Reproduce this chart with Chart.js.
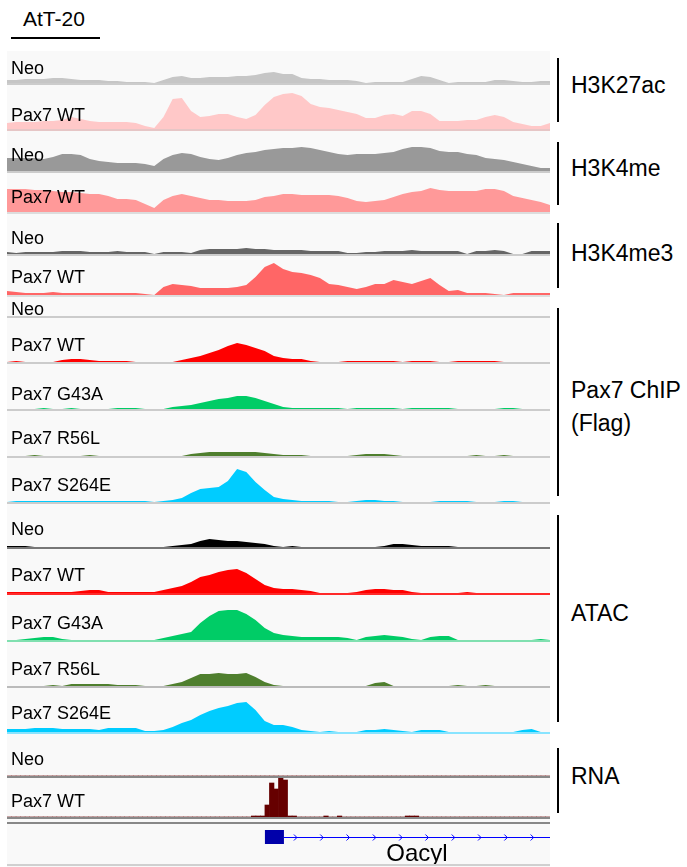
<!DOCTYPE html>
<html>
<head>
<meta charset="utf-8">
<script src="https://cdn.jsdelivr.net/npm/chart.js@4/dist/chart.umd.min.js"></script>
<style>
body { margin: 0; background: #fff; font-family: Arial, "Liberation Sans", sans-serif; }
#page { position: relative; width: 687px; height: 867px; overflow: hidden; }
.track { position: absolute; left: 7px; width: 543px; background: #f9f9f9; }
.track canvas { position: absolute; left: 0; top: 0; }
.base { position: absolute; left: 0; width: 543px; height: 2px; }
.lab { position: absolute; left: 11px; font-size: 18px; line-height: 20px; color: #000; white-space: nowrap; }
.grp { position: absolute; left: 557px; width: 2px; background: #000; }
.glab { position: absolute; left: 571px; font-size: 23px; line-height: 26px; color: #000; white-space: nowrap; }
</style>
</head>
<body>
<div id="page">
  <div style="position:absolute;left:23px;top:7px;font-size:21px;line-height:24px;">AtT-20</div>
  <div style="position:absolute;left:11px;top:37px;width:89px;height:2px;background:#000;"></div>
</div>
<script>
// signal per bin (60 bins across the locus)
const bins = Array.from({ length: 60 }, (_, i) => i)
const rnaBins = Array.from({ length: 120 }, (_, i) => i)

const h3k27acNeo = [3,3,4,4,4,5,5,4,3,3, 3,2,2,1,1,1,0,3,6,7, 5,5,6,6,6,7,7,8,10,11, 9,9,5,4,4,3,3,3,2,0, 1,1,1,1,4,7,6,3,0,1, 1,1,1,3,3,2,1,1,2,2]
const h3k27acWT = [6,7,7,7,8,8,9,12,10,8, 7,7,7,7,6,3,1,12,30,31, 18,12,13,15,15,12,10,14,24,32, 35,36,33,25,22,21,19,17,15,11, 11,14,15,13,18,18,15,8,8,8, 9,9,12,14,12,7,5,3,3,6]
const h3k4meNeo = [13,13,13,13,12,14,17,17,16,12, 10,9,8,8,8,7,5,12,16,18, 17,14,12,11,13,16,18,19,21,22, 23,23,24,23,21,19,17,16,17,17, 17,18,19,22,24,24,23,20,19,19, 17,16,13,12,11,9,7,5,3,3]
const h3k4meWT = [23,23,23,22,22,21,20,20,19,18, 18,16,13,13,12,8,4,12,16,18, 16,14,12,12,11,11,11,12,15,16, 18,18,17,17,17,17,16,14,11,10, 11,12,15,18,20,21,24,22,21,21, 21,21,23,23,21,16,14,12,10,7]
const h3k4me3Neo = [2,1,2,2,2,2,3,3,3,2, 2,2,3,2,2,2,0,2,2,2, 1,4,5,5,5,5,6,5,5,4, 4,4,4,3,3,3,3,1,1,2, 2,3,3,3,4,3,3,3,3,3, 0,3,3,4,3,0,0,3,3,3]
const h3k4me3WT = [4,3,2,2,2,3,2,2,2,2, 2,2,2,2,2,1,0,8,11,10, 9,7,7,7,7,8,10,18,28,32, 26,23,22,20,17,11,10,8,6,8, 11,11,15,13,11,14,17,10,4,5, 2,2,2,1,0,2,2,2,2,2]

const chipNeo = [0,0,0,0,0,0,0,0,0,0, 0,0,0,0,0,0,0,0,0,0, 0,0,0,0,0,0,0,0,0,0, 0,0,0,0,0,0,0,0,0,0, 0,0,0,0,0,0,0,0,0,0, 0,0,0,0,0,0,0,0,0,0]
const chipWT = [0,1,0,0,0,0,2,3,3,2, 1,1,1,1,0,0,0,0,0,2, 4,6,9,12,16,19,17,14,11,6, 4,3,3,1,0,0,0,1,1,1, 1,1,1,0,1,1,1,0,0,1, 1,1,1,1,0,0,0,0,0,0]
const chipG43A = [0,0,0,0,1,0,0,1,0,0, 0,0,1,1,1,0,0,0,2,3, 4,6,8,10,11,13,13,11,8,5, 2,1,1,1,1,1,1,0,1,1, 1,1,1,0,1,1,1,1,1,0, 0,0,0,0,1,1,0,0,0,0]
const chipR56L = [0,0,0,1,0,0,0,0,0,1, 0,0,0,0,0,0,0,0,0,0, 2,3,4,4,4,4,4,4,3,2, 1,1,1,0,0,0,0,0,1,2, 2,2,1,0,0,0,0,0,0,0, 0,1,0,0,1,0,0,0,0,0]
const chipS264E = [0,1,1,1,1,1,1,1,1,1, 1,1,1,1,1,1,0,1,2,4, 9,13,14,15,21,33,30,20,12,5, 3,2,1,1,1,1,0,0,1,2, 2,1,1,0,0,0,0,1,1,1, 1,0,0,0,1,1,0,0,0,0]

const atacNeo = [1,1,1,0,0,0,0,0,0,0, 0,0,0,0,0,0,0,0,1,2, 3,6,8,7,6,6,5,4,3,1, 0,1,0,0,0,0,0,0,0,0, 0,1,3,3,2,1,1,1,1,0, 0,0,0,0,0,0,0,0,0,0]
const atacWT = [1,1,1,1,1,1,1,1,2,3, 3,1,1,1,1,1,1,3,5,7, 11,16,18,21,23,24,20,14,8,5, 4,4,3,2,0,0,0,0,1,3, 4,4,3,3,1,0,0,0,0,0, 1,0,0,0,0,0,0,0,0,0]
const atacG43A = [0,0,1,2,3,3,1,0,0,0, 0,0,0,0,0,0,0,2,4,6, 8,17,24,29,30,30,26,20,12,7, 5,4,3,3,3,3,3,2,0,3, 4,5,4,3,1,0,3,4,4,0, 0,0,0,0,0,0,0,0,1,0]
const atacR56L = [0,0,0,0,0,1,0,2,2,2, 2,2,1,1,1,0,0,0,2,4, 8,12,12,13,12,12,13,9,4,1, 0,0,0,0,0,0,0,0,0,0, 3,4,0,0,0,0,0,0,0,1, 0,0,1,0,0,0,0,0,0,0]
const atacS264E = [3,3,3,4,4,4,3,3,3,3, 2,4,4,4,4,1,1,2,5,9, 12,17,21,24,26,29,30,22,11,7, 7,5,2,1,0,1,0,0,0,2, 2,3,2,1,0,2,2,2,0,0, 0,0,0,0,0,0,2,3,0,0]

// RNA at finer bins (120)
const rnaNeo = [0,0,0,0,0,0,0,0,0,0, 0,0,0,0,0,0,0,0,0,0, 0,0,0,0,0,0,0,0,0,0, 0,0,0,0,0,0,0,0,0,0, 0,0,0,0,0,0,0,0,0,0, 0,0,0,0,0,0,0,0,0,0,
                0,0,0,0,0,0,0,0,0,0, 0,0,0,0,0,0,0,0,0,0, 0,0,0,0,0,0,0,0,0,0, 0,0,0,0,0,0,0,0,0,0, 0,0,0,0,0,0,0,0,0,0, 0,0,0,0,0,0,0,0,0,0]
const rnaWT = [0,0,0,0,0,0,0,0,0,0, 0,0,0,0,0,0,0,0,0,0, 0,0,0,0,0,0,0,0,0,0, 0,0,0,0,0,0,0,0,0,0, 0,0,0,0,0,0,0,0,0,0, 0,0,0,0,1,1,1,12,34,28,
               39,37,1,1,0,0,0,0,0,0, 1,0,0,1,0,0,0,0,0,0, 0,0,0,0,0,0,0,0,1,1, 1,0,0,0,0,0,0,0,0,0, 0,0,0,0,0,0,0,0,0,0, 0,0,0,0,0,0,0,0,0,0]

// gene model in bin units
const geneName = 'Oacyl'
const geneExon = [28.5, 30.6]
const geneEnd = 60

const tracks = [
  { label: 'Neo',         data: h3k27acNeo, color: '#c6c6c6', top: 51,  bottom: 85,  labY: 68,  line: '#cccccc' },
  { label: 'Pax7 WT',     data: h3k27acWT,  color: '#ffc8c8', top: 85,  bottom: 131, labY: 115, line: '#e6c6c6' },
  { label: 'Neo',         data: h3k4meNeo,  color: '#999999', top: 131, bottom: 173, labY: 155, line: '#cccccc' },
  { label: 'Pax7 WT',     data: h3k4meWT,   color: '#ff9999', top: 173, bottom: 214, labY: 197, line: '#dddddd' },
  { label: 'Neo',         data: h3k4me3Neo, color: '#666666', top: 214, bottom: 256, labY: 238, line: '#cccccc' },
  { label: 'Pax7 WT',     data: h3k4me3WT,  color: '#ff6666', top: 256, bottom: 297, labY: 277, line: '#dddddd' },
  { label: 'Neo',         data: chipNeo,    color: '#ff0000', top: 297, bottom: 318, labY: 309, line: '#cccccc' },
  { label: 'Pax7 WT',     data: chipWT,     color: '#ff0000', top: 318, bottom: 364, labY: 345, line: '#cccccc' },
  { label: 'Pax7 G43A',   data: chipG43A,   color: '#00cc66', top: 364, bottom: 411, labY: 394, line: '#cccccc' },
  { label: 'Pax7 R56L',   data: chipR56L,   color: '#4f7f2e', top: 411, bottom: 458, labY: 438, line: '#cccccc' },
  { label: 'Pax7 S264E',  data: chipS264E,  color: '#00ccff', top: 458, bottom: 504, labY: 485, line: '#cccccc' },
  { label: 'Neo',         data: atacNeo,    color: '#000000', top: 504, bottom: 549, labY: 529, line: '#777777' },
  { label: 'Pax7 WT',     data: atacWT,     color: '#ff0000', top: 549, bottom: 595, labY: 575, line: '#ff2a2a' },
  { label: 'Pax7 G43A',   data: atacG43A,   color: '#00cc66', top: 595, bottom: 642, labY: 623, line: '#80e0b0' },
  { label: 'Pax7 R56L',   data: atacR56L,   color: '#4f7f2e', top: 642, bottom: 688, labY: 669, line: '#bbbbbb' },
  { label: 'Pax7 S264E',  data: atacS264E,  color: '#00ccff', top: 688, bottom: 734, labY: 713, line: '#88e4ff' },
  { label: 'Neo',         data: rnaNeo,     color: '#660000', top: 734, bottom: 778, labY: 759, line: '#888888', bar: true },
  { label: 'Pax7 WT',     data: rnaWT,      color: '#660000', top: 778, bottom: 819, labY: 801, line: '#888888', bar: true }
]

const groups = [
  { text: ['H3K27ac'],               from: 58,  to: 122, labY: [85] },
  { text: ['H3K4me'],                from: 142, to: 205, labY: [168] },
  { text: ['H3K4me3'],               from: 223, to: 288, labY: [253] },
  { text: ['Pax7 ChIP', '(Flag)'],   from: 308, to: 496, labY: [390, 423] },
  { text: ['ATAC'],                  from: 515, to: 722, labY: [613] },
  { text: ['RNA'],                   from: 748, to: 813, labY: [776] }
]

const page = document.getElementById('page')

function trackChart(canvas, values, color, ymax, bar) {
  return new Chart(canvas, {
    type: bar ? 'bar' : 'line',
    data: {
      labels: bar ? rnaBins : bins,
      datasets: [{
        data: values,
        backgroundColor: color,
        borderColor: color,
        borderWidth: 0,
        fill: 'origin',
        pointRadius: 0,
        tension: 0,
        categoryPercentage: 1,
        barPercentage: 1
      }]
    },
    options: {
      responsive: false,
      animation: false,
      events: [],
      layout: { padding: 0 },
      plugins: { legend: { display: false }, tooltip: { enabled: false } },
      scales: {
        x: { display: false, offset: !!bar },
        y: { display: false, min: 0, max: ymax }
      }
    }
  })
}

tracks.forEach(t => {
  const h = t.bottom - t.top
  const div = document.createElement('div')
  div.className = 'track'
  div.style.top = t.top + 'px'
  div.style.height = h + 'px'
  const cv = document.createElement('canvas')
  cv.width = 543
  cv.height = h - 2
  div.appendChild(cv)
  const line = document.createElement('div')
  line.className = 'base'
  line.style.top = (h - 2) + 'px'
  line.style.background = t.line
  div.appendChild(line)
  page.appendChild(div)
  trackChart(cv, t.data, t.color, h - 2, t.bar)

  const lab = document.createElement('div')
  lab.className = 'lab'
  lab.textContent = t.label
  lab.style.top = (t.labY - 10) + 'px'
  page.appendChild(lab)
})

groups.forEach(g => {
  const bar = document.createElement('div')
  bar.className = 'grp'
  bar.style.top = g.from + 'px'
  bar.style.height = (g.to - g.from) + 'px'
  page.appendChild(bar)
  g.text.forEach((s, i) => {
    const d = document.createElement('div')
    d.className = 'glab'
    d.textContent = s
    d.style.top = (g.labY[i] - 13) + 'px'
    page.appendChild(d)
  })
})

// gene track
const gdiv = document.createElement('div')
gdiv.className = 'track'
gdiv.style.top = '819px'
gdiv.style.height = '48px'
gdiv.innerHTML = '<div class="base" style="top:3px;background:#888"></div><div class="base" style="top:45px;background:#d0d0d0"></div>'
const gcv = document.createElement('canvas')
gcv.width = 543
gcv.height = 45
gdiv.appendChild(gcv)
page.appendChild(gdiv)

const geneDraw = {
  id: 'geneDraw',
  afterDraw(chart) {
    const ctx = chart.ctx
    const x = chart.scales.x
    const y = 18
    const x0 = x.getPixelForValue(geneExon[0])
    const x1 = x.getPixelForValue(geneExon[1])
    const xe = x.getPixelForValue(geneEnd)
    ctx.save()
    ctx.strokeStyle = '#0000ff'
    ctx.lineWidth = 1
    ctx.beginPath()
    ctx.moveTo(x1, y + 0.5)
    ctx.lineTo(xe, y + 0.5)
    ctx.stroke()
    for (let p = x1 + 12; p < xe - 4; p += 26.3) {
      ctx.beginPath()
      ctx.moveTo(p - 2, y - 2.5)
      ctx.lineTo(p + 1, y + 0.5)
      ctx.lineTo(p - 2, y + 3.5)
      ctx.stroke()
    }
    ctx.fillStyle = '#0000aa'
    ctx.fillRect(x0, y - 7, x1 - x0, 14)
    ctx.fillStyle = '#000'
    ctx.font = '24px Arial, "Liberation Sans", sans-serif'
    ctx.textAlign = 'center'
    ctx.textBaseline = 'middle'
    ctx.fillText(geneName, (x1 + xe) / 2, 35)
    ctx.restore()
  }
}

new Chart(gcv, {
  type: 'scatter',
  data: { datasets: [{ data: [] }] },
  options: {
    responsive: false,
    animation: false,
    events: [],
    layout: { padding: 0 },
    plugins: { legend: { display: false }, tooltip: { enabled: false } },
    scales: {
      x: { type: 'linear', display: false, min: 0, max: 60 },
      y: { display: false, min: 0, max: 1 }
    }
  },
  plugins: [geneDraw]
})
</script>
</body>
</html>
